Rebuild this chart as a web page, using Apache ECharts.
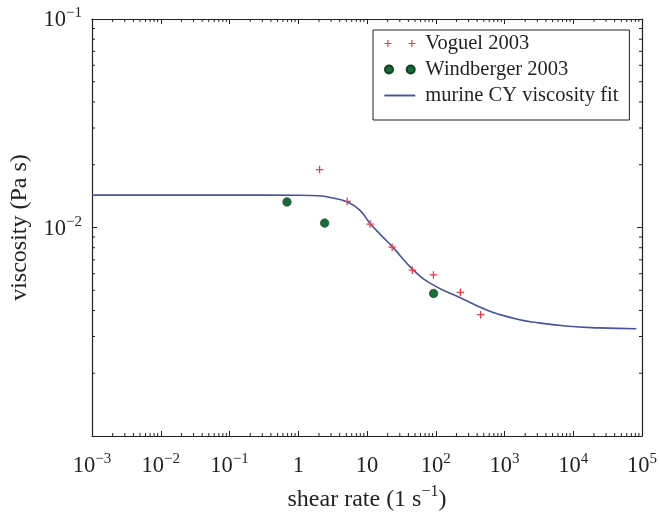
<!DOCTYPE html>
<html><head><meta charset="utf-8">
<script src="https://cdn.jsdelivr.net/npm/echarts@6/dist/echarts.min.js"></script>
<style>html,body{margin:0;padding:0;background:#fff}#c{width:660px;height:517px}</style>
</head><body><div id="c"></div>
<script>
// ---- data ----
const xTicks = [1e-3, 1e-2, 1e-1, 1, 10, 1e2, 1e3, 1e4, 1e5];
const yTicks = [1e-3, 1e-2, 1e-1];
const minorMultipliers = [2, 3, 4, 5, 6, 7, 8, 9];

const voguelShear = [2.04, 5.15, 11.1, 23.2, 45.8, 92.5, 228, 449];
const voguelVisc  = [0.01895, 0.01336, 0.01038, 0.00805, 0.00624, 0.00592, 0.00489, 0.00382];

const windbergerShear = [0.686, 2.42, 93];
const windbergerVisc  = [0.01326, 0.0105, 0.00483];

const fitShear = [0.001, 0.01, 0.1, 1.0, 2.0, 3.2, 5.26, 7.78, 11.1, 16.1, 23.7, 46.2, 90, 220, 540, 840, 1600, 2560, 7800, 23800, 82600];
const fitVisc  = [0.0143, 0.0143, 0.0143, 0.01428, 0.0142, 0.01384, 0.01321, 0.01215, 0.01045, 0.00917, 0.00805, 0.0063, 0.00532, 0.00463, 0.00403, 0.00383, 0.00362, 0.00352, 0.00337, 0.0033, 0.00327];

const seriesNames = ['Voguel 2003', 'Windberger 2003', 'murine CY viscosity fit'];

// ---- chart ----
const FONT = 'Liberation Serif';
const INK = '#231f20';
const MINUS = '\u2212';

function expLabel(v) {
  const e = Math.round(Math.log10(v));
  if (e === 0) return '{b|1}';
  if (e === 1) return '{b|10}';
  return '{b|10}{s|' + (e < 0 ? MINUS + (-e) : String(e)) + '}';
}
const rich = {
  b: { fontFamily: FONT, fontSize: 22.5, color: INK, lineHeight: 26, verticalAlign: 'bottom' },
  s: { fontFamily: FONT, fontSize: 15, color: INK, lineHeight: 15, verticalAlign: 'top' }
};
const richTitle = {
  t: { fontFamily: FONT, fontSize: 24, color: INK, lineHeight: 28, verticalAlign: 'bottom' },
  s: { fontFamily: FONT, fontSize: 16, color: INK, lineHeight: 16, verticalAlign: 'top' }
};

const minorData = [];
for (let i = 0; i < xTicks.length - 1; i++)
  for (const m of minorMultipliers) minorData.push([xTicks[i] * m, 0.01, 0]);
for (let i = 0; i < yTicks.length - 1; i++)
  for (const m of minorMultipliers) minorData.push([0.01, yTicks[i] * m, 1]);

const plusPath = 'path://M2.9,0h1.2v2.9h2.9v1.2h-2.9v2.9h-1.2v-2.9h-2.9v-1.2h2.9z';
const plusPairPath = 'path://M2.9,0h1.2v2.9h2.9v1.2h-2.9v2.9h-1.2v-2.9h-2.9v-1.2h2.9zM26.9,0h1.2v2.9h2.9v1.2h-2.9v2.9h-1.2v-2.9h-2.9v-1.2h2.9z';
const dotPairPath = 'path://M0,4a4,4 0 1,0 8,0a4,4 0 1,0 -8,0zM21.7,4a4,4 0 1,0 8,0a4,4 0 1,0 -8,0z';
const linePath = 'path://M0,0h26v1.6h-26z';

const axisCommon = {
  type: 'log', logBase: 10,
  axisLine: { show: true, onZero: false, lineStyle: { color: INK, width: 1.2 } },
  axisTick: { show: true, inside: true, length: 5, lineStyle: { color: INK, width: 1 } },
  splitLine: { show: false },
  minorTick: { show: false }
};

const chart = echarts.init(document.getElementById('c'), null, { renderer: 'canvas' });
chart.setOption({
  animation: false,
  backgroundColor: '#fff',
  grid: { left: 92, right: 17, top: 19, bottom: 72 },
  xAxis: [
    Object.assign({}, axisCommon, {
      position: 'bottom', min: xTicks[0], max: xTicks[xTicks.length - 1], splitNumber: 8,
      axisLabel: { margin: 16, formatter: expLabel, rich: rich },
      name: '{t|shear rate (1 s}{s|' + MINUS + '1}{t|)}',
      nameLocation: 'middle', nameGap: 48,
      nameTextStyle: { rich: richTitle }
    }),
    Object.assign({}, axisCommon, {
      position: 'top', min: xTicks[0], max: xTicks[xTicks.length - 1], splitNumber: 8,
      axisLabel: { show: false }
    })
  ],
  yAxis: [
    Object.assign({}, axisCommon, {
      position: 'left', min: yTicks[0], max: yTicks[yTicks.length - 1], splitNumber: 2,
      axisLabel: { margin: 10, showMinLabel: false, formatter: expLabel, rich: rich },
      name: 'viscosity (Pa s)', nameLocation: 'middle', nameGap: 60,
      nameTextStyle: { fontFamily: FONT, fontSize: 24, color: INK }
    }),
    Object.assign({}, axisCommon, {
      position: 'right', min: yTicks[0], max: yTicks[yTicks.length - 1], splitNumber: 2,
      axisLabel: { show: false }
    })
  ],
  legend: {
    orient: 'vertical', left: 373, top: 30,
    padding: [3, 11, 14, 11],
    itemGap: 5, itemWidth: 31, itemHeight: 8,
    borderColor: INK, borderWidth: 1, borderRadius: 0,
    textStyle: { fontFamily: FONT, fontSize: 20.5, color: INK, padding: [0, 0, 0, 5] },
    data: [
      { name: seriesNames[0], icon: plusPairPath },
      { name: seriesNames[1], icon: dotPairPath },
      { name: seriesNames[2], icon: linePath }
    ]
  },
  series: [
    {
      type: 'custom', name: 'minorTicks', silent: true, z: 1,
      xAxisIndex: 0, yAxisIndex: 0, clip: false,
      data: minorData,
      encode: { x: 0, y: 1 },
      renderItem: function (params, api) {
        const cs = params.coordSys;
        const p = api.coord([api.value(0), api.value(1)]);
        const L = 3;
        const style = { stroke: INK, lineWidth: 1 };
        if (api.value(2) === 0) {
          return { type: 'group', children: [
            { type: 'line', shape: { x1: p[0], y1: cs.y + cs.height, x2: p[0], y2: cs.y + cs.height - L }, style: style },
            { type: 'line', shape: { x1: p[0], y1: cs.y, x2: p[0], y2: cs.y + L }, style: style }
          ] };
        }
        return { type: 'group', children: [
          { type: 'line', shape: { x1: cs.x, y1: p[1], x2: cs.x + L, y2: p[1] }, style: style },
          { type: 'line', shape: { x1: cs.x + cs.width, y1: p[1], x2: cs.x + cs.width - L, y2: p[1] }, style: style }
        ] };
      }
    },
    {
      type: 'line', name: seriesNames[2], z: 3,
      data: fitShear.map((x, i) => [x, fitVisc[i]]),
      symbol: 'none', showSymbol: false, smooth: 0.5,
      itemStyle: { color: '#4653a3' },
      lineStyle: { color: '#4653a3', width: 1.6 }
    },
    {
      type: 'scatter', name: seriesNames[0], z: 4,
      data: voguelShear.map((x, i) => [x, voguelVisc[i]]),
      symbol: plusPath, symbolSize: 7.5,
      itemStyle: { color: '#ee3a44', opacity: 1 }
    },
    {
      type: 'scatter', name: seriesNames[1], z: 4,
      data: windbergerShear.map((x, i) => [x, windbergerVisc[i]]),
      symbol: 'circle', symbolSize: 8.5,
      itemStyle: { color: '#186c36', borderColor: '#0e4320', borderWidth: 0.6, opacity: 1 }
    }
  ]
});
</script>
</body></html>
